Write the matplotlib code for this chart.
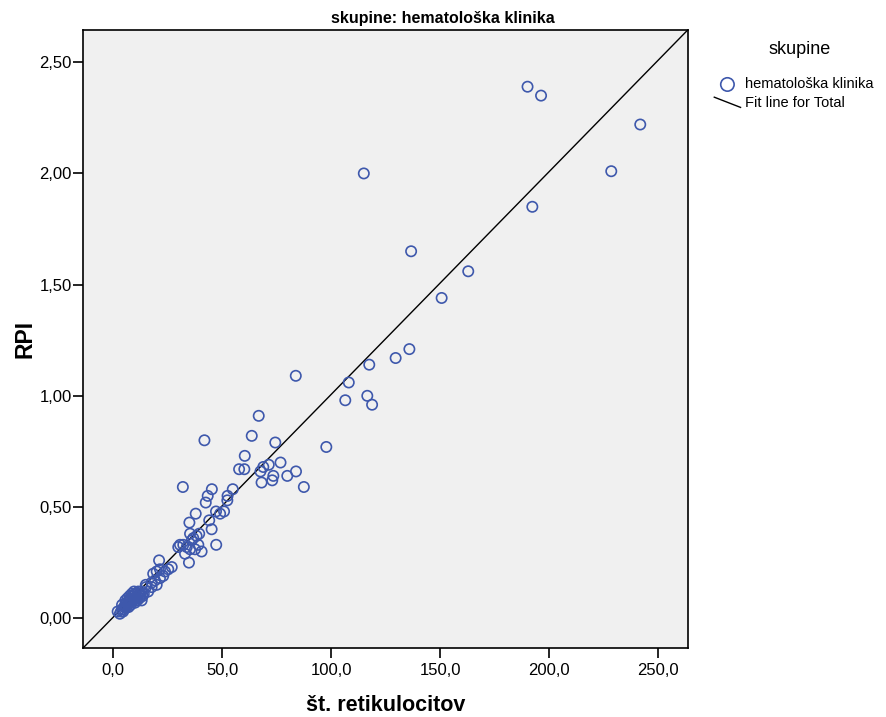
import matplotlib
matplotlib.use('Agg')
import matplotlib.pyplot as plt
import numpy as np
from matplotlib.lines import Line2D
from matplotlib.legend_handler import HandlerBase

plt.rcParams['font.family'] = ['Liberation Sans', 'DejaVu Sans']

# št. retikulocitov (x) in RPI (y), odčitano s slike
retik = [
    190.0, 196.2, 241.7, 228.4, 192.2, 114.9, 136.6, 162.8, 150.6, 135.8,
    129.5, 117.4, 108.0, 106.4, 116.5, 118.7, 83.7, 66.7, 41.8, 63.5,
    74.3, 60.3, 76.7, 97.7, 57.7, 60.1, 71.3, 68.8, 67.5, 68.0,
    72.9, 73.4, 79.8, 83.8, 87.4, 31.9, 45.2, 54.8, 43.3, 42.4,
    52.4, 52.3, 47.1, 49.0, 50.8, 37.8, 34.9, 44.0, 45.1, 47.2,
    39.4, 38.2, 36.7, 36.0, 35.2, 30.6, 32.1, 29.8, 33.7, 35.2,
    37.5, 39.0, 40.5, 32.9, 34.7, 21.0, 26.8, 25.2, 23.7, 21.4,
    19.9, 18.3, 22.9, 21.4, 19.1, 17.6, 19.9, 17.6, 14.9, 16.0,
    2.0, 3.0, 3.5, 4.0, 4.5, 5.0, 5.0, 5.5, 6.0, 6.0,
    6.5, 7.0, 7.0, 7.5, 8.0, 8.0, 8.5, 9.0, 9.0, 9.5,
    10.0, 10.0, 10.5, 11.0, 11.0, 11.5, 12.0, 12.0, 12.5, 13.0,
    13.0, 13.5, 14.0, 6.5, 7.5, 8.5, 9.5, 4.0, 5.5, 15.0,
]
rpi = [
    2.39, 2.35, 2.22, 2.01, 1.85, 2.00, 1.65, 1.56, 1.44, 1.21,
    1.17, 1.14, 1.06, 0.98, 1.00, 0.96, 1.09, 0.91, 0.80, 0.82,
    0.79, 0.73, 0.70, 0.77, 0.67, 0.67, 0.69, 0.68, 0.66, 0.61,
    0.62, 0.64, 0.64, 0.66, 0.59, 0.59, 0.58, 0.58, 0.55, 0.52,
    0.55, 0.53, 0.48, 0.47, 0.48, 0.47, 0.43, 0.44, 0.40, 0.33,
    0.38, 0.37, 0.36, 0.35, 0.38, 0.33, 0.33, 0.32, 0.32, 0.31,
    0.31, 0.33, 0.30, 0.29, 0.25, 0.26, 0.23, 0.22, 0.21, 0.22,
    0.21, 0.20, 0.19, 0.18, 0.17, 0.16, 0.15, 0.14, 0.15, 0.12,
    0.03, 0.02, 0.03, 0.04, 0.03, 0.05, 0.04, 0.06, 0.05, 0.07,
    0.06, 0.05, 0.07, 0.08, 0.06, 0.09, 0.07, 0.08, 0.10, 0.09,
    0.07, 0.11, 0.09, 0.08, 0.10, 0.12, 0.09, 0.11, 0.10, 0.08,
    0.12, 0.10, 0.11, 0.09, 0.10, 0.11, 0.12, 0.06, 0.08, 0.14,
]

# fit line for Total
fit_slope = 0.01002
fit_intercept = 0.005

x_ticks = [0, 50, 100, 150, 200, 250]
x_ticklabels = ['0,0', '50,0', '100,0', '150,0', '200,0', '250,0']
y_ticks = [0, 0.5, 1.0, 1.5, 2.0, 2.5]
y_ticklabels = ['0,00', '0,50', '1,00', '1,50', '2,00', '2,50']

blue = '#3e58ac'


class DiagHandler(HandlerBase):
    # SPSS riše črto v legendi poševno
    def create_artists(self, legend, orig_handle, xdescent, ydescent,
                       width, height, fontsize, trans):
        ln = Line2D([-xdescent, width - xdescent],
                    [height - ydescent, -ydescent],
                    color='black', lw=1.0)
        ln.set_transform(trans)
        return [ln]


fig = plt.figure(figsize=(8.86, 7.17), dpi=100)
ax = fig.add_axes([83 / 886, 1 - 648 / 717, 605 / 886, 618 / 717])
ax.set_facecolor('#f0f0f0')

xlim = (-13.9, 263.6)
ylim = (-0.134, 2.645)
ax.set_xlim(*xlim)
ax.set_ylim(*ylim)

sc = ax.scatter(retik, rpi, s=55, facecolors='none', edgecolors=blue,
                linewidths=1.2, zorder=3)
xs = np.array(xlim)
fl, = ax.plot(xs, fit_intercept + fit_slope * xs, color='black', lw=1.0, zorder=2)

ax.set_xticks(x_ticks)
ax.set_xticklabels(x_ticklabels)
ax.set_yticks(y_ticks)
ax.set_yticklabels(y_ticklabels)
ax.tick_params(direction='out', length=7, width=1.2, labelsize=12, color='black')
ax.tick_params(axis='x', pad=4)
ax.tick_params(axis='y', pad=1)
for sp in ax.spines.values():
    sp.set_linewidth(1.2)
    sp.set_color('black')

ax.set_xlabel('št. retikulocitov', fontsize=15.5, fontweight='bold', labelpad=12)
ax.set_ylabel('RPI', fontsize=16.5, fontweight='bold', labelpad=2)
fig.text(0.5, 1 - 18 / 717, 'skupine: hematološka klinika', fontsize=11.5,
         fontweight='bold', ha='center', va='center')

# legenda
fig.text(800 / 886, 1 - 49 / 717, 'skupine', fontsize=13, ha='center', va='center')
leg = fig.legend([sc, fl], ['hematološka klinika', 'Fit line for Total'],
                 handler_map={fl: DiagHandler()}, fontsize=10.5, markerscale=1.3,
                 loc='upper left', bbox_to_anchor=(707 / 886, 1 - 70 / 717),
                 frameon=False, borderpad=0, handlelength=1.8, handletextpad=0.3,
                 labelspacing=0.35)

fig.savefig('out.png', dpi=100)
